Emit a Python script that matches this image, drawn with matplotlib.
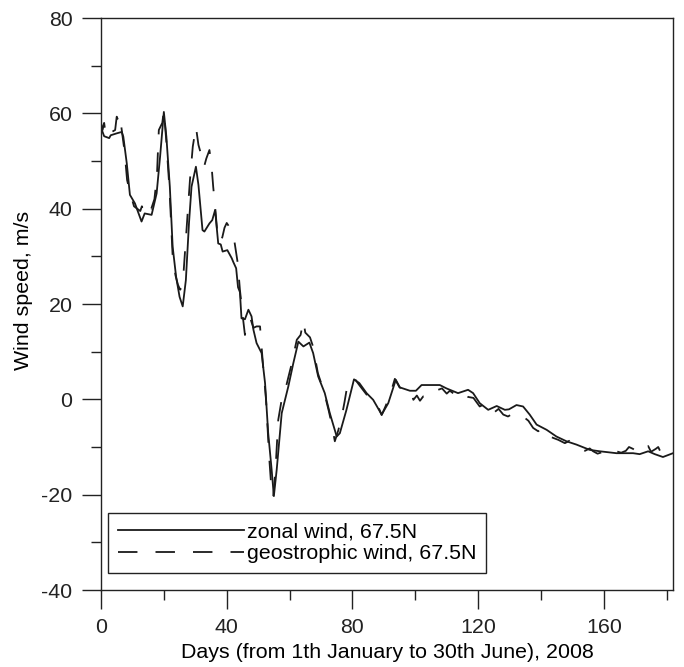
import numpy as np
import matplotlib
matplotlib.use('Agg')
import matplotlib.pyplot as plt
from matplotlib.ticker import MultipleLocator

plt.rcParams['font.family'] = ['Liberation Sans', 'DejaVu Sans']
plt.rcParams['lines.scale_dashes'] = False
plt.rcParams['axes.unicode_minus'] = False

# zonal wind, 67.5N (solid)
zonalDays = [0, 1, 2.6, 3.1, 5.0, 6.6, 7.1, 8.2, 9.2, 10.8, 12.9, 13.9, 16.1, 17.7, 18.8,
             20.0, 20.8, 21.9, 22.8, 23.9, 25.0, 26.0, 27.0, 28.0, 28.8, 30.2, 31.0, 32.3,
             32.9, 34.5, 35.4, 36.3, 37.3, 38.1, 38.7, 40.2, 41.6, 42.1, 43.0, 43.6, 44.2,
             44.7, 45.8, 46.9, 47.9, 48.5, 49.5, 51.1, 52.2, 53.2, 54.3, 55.0, 55.9, 57.5,
             59.6, 61.2, 62.8, 64.4, 66.3, 67.5, 69.1, 71.2, 72.8, 75.0, 76.0, 78.1, 80.5,
             82.2, 84.5, 86.6, 89.3, 91.4, 93.8, 95.1, 98.3, 100.2, 102, 107.8, 109.9, 111,
             113.6, 116.8, 118.4, 120.5, 123.2, 125.9, 128.5, 129.8, 132.2, 134.3, 136.4,
             138.6, 141.8, 144.9, 148.1, 151.3, 155.5, 158.7, 164, 169.3, 171.4, 174.1,
             176.2, 178.8, 182]
zonalWind = [57.0, 55.2, 54.8, 55.4, 55.8, 56.1, 55.1, 49.5, 42.9, 41.1, 37.3, 39.0, 38.7,
             43.2, 50.9, 60.3, 55.1, 44.6, 32.0, 25.7, 21.5, 19.5, 25.0, 37.0, 44.6, 48.8,
             45.0, 35.5, 35.2, 36.9, 37.6, 39.7, 32.7, 32.5, 31.0, 31.3, 29.6, 28.8, 27.5,
             23.5, 22.5, 17.0, 16.8, 18.8, 17.4, 14.6, 11.8, 9.7, 3.4, -7.1, -14.8, -20.3,
             -14.8, -2.9, 2.7, 7.6, 12.1, 11.1, 11.9, 9.7, 4.8, 1.3, -2.9, -7.8, -7.1, -2.2,
             4.2, 3.4, 1.3, -0.1, -3.2, -0.8, 4.1, 2.5, 1.8, 1.8, 3.0, 3.0, 2.3, 2.0, 1.3,
             2.0, 1.3, -0.8, -2.2, -1.4, -2.2, -2.1, -1.2, -1.5, -3.2, -5.3, -6.4, -7.8,
             -8.8, -9.5, -10.6, -10.9, -11.3, -11.3, -11.5, -10.9, -11.5, -12.1, -11.3]

# geostrophic wind, 67.5N (dashed)
geoDays = [0, 0.5, 1.0, 1.5, 2.5, 3.2, 4.5, 5.0, 5.5, 6.0, 6.6, 7.5, 8.3, 9.2, 10.5, 11.5,
           12.5, 13.0, 14.0, 15.0, 16.0, 17.0, 17.8, 18.4, 19.5, 20.0, 20.8, 21.8, 22.8,
           23.7, 24.5, 25.2, 26.0, 27.2, 28.3, 29.2, 30.2, 31.0, 32.0, 32.8, 33.5, 34.5,
           35.2, 35.7, 36.3, 37.0, 37.8, 38.6, 39.3, 40.0, 40.5, 41.3, 42.3, 43.5, 44.2,
           45.0, 45.8, 46.5, 47.5, 48.5, 49.5, 50.6, 51.5, 52.5, 53.5, 54.3, 54.8, 55.5,
           56.4, 57.5, 59.0, 60.5, 62.3, 63.5, 64.4, 65.0, 66.5, 67.5, 69.0, 71.0, 72.5,
           73.5, 74.4, 75.5, 76.5, 77.5, 78.4, 79.5, 80.5, 82.4, 84.5, 86.6, 88.5, 89.3,
           90.5, 92.0, 93.5, 95.0, 96.5, 98.3, 99.4, 100.5, 101.5, 102.5, 104, 105.5, 107.3,
           108.5, 110, 111, 112.6, 114, 115.5, 116.8, 118.5, 120.5, 122, 123.5, 124.8,
           126.5, 128, 129.5, 131, 132.5, 134.3, 136, 137.5, 139.1, 140.5, 142, 143.9,
           145.5, 147.6, 149, 150.5, 152.3, 154, 155.5, 156.6, 158, 159.9, 161, 162.5, 164,
           165.5, 167, 168, 169.3, 170.5, 172, 173.2, 174.1, 175, 176.5, 177.3, 178]
geoWind = [58.0, 56.5, 58.0, 55.5, 55.0, 56.0, 56.5, 59.3, 58.5, 59.5, 56.5, 52.0, 46.0,
           43.5, 40.5, 40.0, 39.5, 40.5, 39.0, 40.5, 40.0, 42.0, 47.0, 56.5, 58.0, 60.6,
           54.0, 44.0, 30.0, 26.0, 24.0, 23.0, 24.0, 35.5, 46.0, 53.0, 57.2, 53.4, 51.0,
           48.8, 50.5, 52.3, 48.8, 44.6, 40.5, 35.0, 33.0, 34.0, 36.0, 37.0, 36.5, 35.5,
           33.8, 28.6, 23.0, 18.0, 13.5, 16.0, 17.0, 15.0, 15.3, 15.3, 7.6, 0.0, -12.0,
           -19.5, -20.5, -15.0, -4.3, 0.0, 3.0, 7.0, 12.5, 13.5, 16.5, 14.0, 13.0, 11.0,
           5.5, 1.5, -2.5, -5.5, -8.8, -6.5, -4.0, -0.5, 3.0, 3.5, 4.5, 2.8, 1.0, -0.3,
           -2.0, -3.3, -1.5, 1.0, 4.3, 2.5, 2.0, 2.0, -0.1, 0.8, -0.3, 0.6, 0.3, 1.5, 2.0,
           2.3, 1.2, 1.8, 1.0, 0.5, 1.3, 0.5, 0.3, -1.5, -1.0, -2.5, -2.9, -2.0, -3.2, -3.6,
           -3.0, -3.8, -3.6, -4.5, -6.0, -6.7, -6.0, -7.5, -8.1, -8.5, -9.2, -8.7, -9.8,
           -10.2, -10.8, -10.3, -10.9, -11.4, -11.0, -11.5, -10.8, -10.9, -11.2, -10.8,
           -10.0, -10.4, -11.0, -11.2, -10.0, -9.8, -11.0, -10.4, -10.0, -11.0]

xTicks = [0, 40, 80, 120, 160]
yTicks = [-40, -20, 0, 20, 40, 60, 80]

fs = 15.4
fig = plt.figure(figsize=(6.84, 6.67), dpi=100)
ax = fig.add_axes([101 / 684, 77 / 667, 572 / 684, 572 / 667])

ax.plot(zonalDays, zonalWind, color='#1a1a1a', lw=1.3, label='zonal wind, 67.5N')
ax.plot(geoDays, geoWind, color='#1a1a1a', lw=1.3, dashes=(14, 13),
        label='geostrophic wind, 67.5N')

ax.set_xlim(0, 182)
ax.set_ylim(-40, 80)
ax.set_xticks(xTicks)
ax.set_yticks(yTicks)
ax.xaxis.set_minor_locator(MultipleLocator(20))
ax.yaxis.set_minor_locator(MultipleLocator(10))
ax.tick_params(which='major', length=14, width=1, labelsize=fs, pad=6.5, colors='#222222')
ax.tick_params(which='minor', length=7, width=1, colors='#222222')
for s in ax.spines.values():
    s.set_color('#222222')
    s.set_linewidth(1)

ax.set_xlabel('Days (from 1th January to 30th June), 2008', fontsize=fs, labelpad=4)
ax.set_ylabel('Wind speed, m/s', fontsize=fs)
ax.yaxis.set_label_coords(-0.119, 0.523)

leg = ax.legend(loc='lower left', bbox_to_anchor=(0.0122, 0.0297), borderaxespad=0,
                fontsize=fs, handlelength=5.9, handletextpad=0.15, borderpad=0.45,
                labelspacing=0.15, fancybox=False, framealpha=1, edgecolor='#222222')
leg.get_frame().set_linewidth(1)

plt.savefig('out.png', dpi=100)
